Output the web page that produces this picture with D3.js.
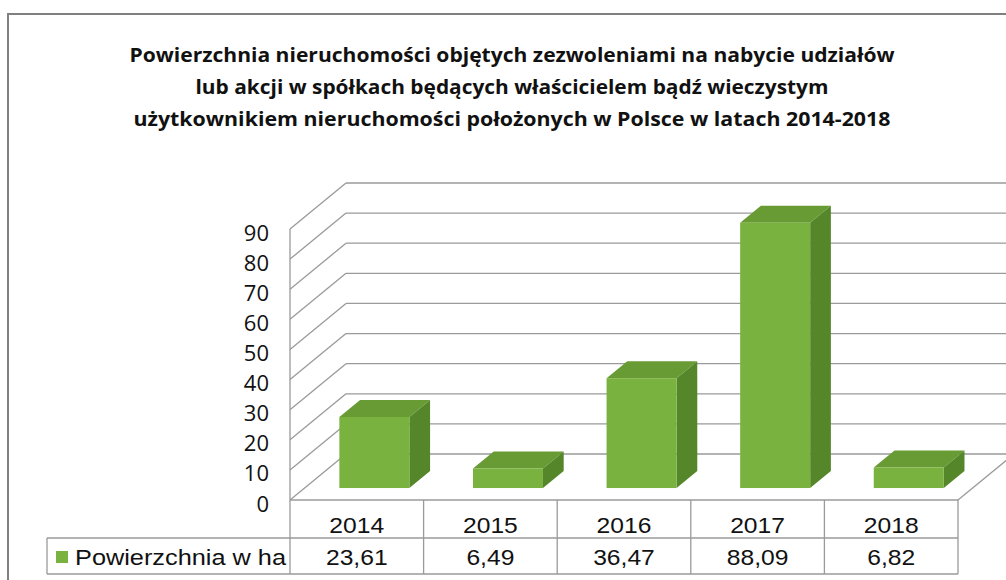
<!DOCTYPE html>
<html>
<head>
<meta charset="utf-8">
<script src="https://cdn.jsdelivr.net/npm/d3@7"></script>
<style>
  body { margin: 0; background: #fff; }
  svg { display: block; }
</style>
</head>
<body>
<section></section>
<script>
"use strict";

// data
const years = ["2014", "2015", "2016", "2017", "2018"];
const values = [23.61, 6.49, 36.47, 88.09, 6.82];
const valueLabels = ["23,61", "6,49", "36,47", "88,09", "6,82"];
const seriesName = "Powierzchnia w ha";
const yTicks = [0, 10, 20, 30, 40, 50, 60, 70, 80, 90];
const titleLines = [
  "Powierzchnia nieruchomości objętych zezwoleniami na nabycie udziałów",
  "lub akcji w spółkach będących właścicielem bądź wieczystym",
  "użytkownikiem nieruchomości położonych w Polsce w latach 2014-2018",
];
const titleWidths = [765, 633, 757];

const w = 1006;
const h = 580;
const depth = { dx: 56, dy: -46 }; // oblique offset front -> back wall
const barDepth = [0.26, 0.63]; // bar front / back as fraction of depth
const barWidth = 70;
const gridColor = "#9a9a9a";
const green = { front: "#7ab23f", top: "#689b33", side: "#55872a" };

const svg = d3.select("section").append("svg").attr("width", w).attr("height", h);

// scales
const x = d3.scaleBand().domain(years).range([290, 958]);
const y = d3.scaleLinear().domain([0, 90]).range([500, 229]);

// frame
svg.append("line").attr("x1", 7).attr("x2", w).attr("y1", 14).attr("y2", 14)
  .attr("stroke", "#808080").attr("stroke-width", 2);
svg.append("line").attr("x1", 8).attr("x2", 8).attr("y1", 14).attr("y2", h)
  .attr("stroke", "#808080").attr("stroke-width", 2);

// title
svg.append("g")
  .selectAll("text")
  .data(titleLines)
  .enter()
  .append("text")
  .attr("x", 512)
  .attr("y", (d, i) => 62 + i * 32)
  .attr("text-anchor", "middle")
  .attr("font-family", "'Open Sans', sans-serif")
  .attr("font-weight", "bold")
  .attr("font-size", 19)
  .attr("fill", "#111")
  .attr("textLength", (d, i) => titleWidths[i])
  .attr("lengthAdjust", "spacingAndGlyphs")
  .text((d) => d);

const walls = svg.append("g").attr("fill", "none").attr("stroke", gridColor).attr("stroke-width", 1.3);

// side wall gridlines (front edge -> back wall)
walls.selectAll("line.side")
  .data(yTicks)
  .enter()
  .append("line")
  .attr("class", "side")
  .attr("x1", x.range()[0])
  .attr("y1", (d) => y(d))
  .attr("x2", x.range()[0] + depth.dx)
  .attr("y2", (d) => y(d) + depth.dy);

// back wall gridlines
walls.selectAll("line.back")
  .data(yTicks)
  .enter()
  .append("line")
  .attr("class", "back")
  .attr("x1", x.range()[0] + depth.dx)
  .attr("y1", (d) => y(d) + depth.dy)
  .attr("x2", x.range()[1] + depth.dx)
  .attr("y2", (d) => y(d) + depth.dy);

// front-left edge
walls.append("line")
  .attr("x1", x.range()[0]).attr("x2", x.range()[0])
  .attr("y1", y(0)).attr("y2", y(90));

// floor front + right edge
walls.append("line")
  .attr("x1", x.range()[0]).attr("x2", x.range()[1])
  .attr("y1", y(0)).attr("y2", y(0));
walls.append("line")
  .attr("x1", x.range()[1]).attr("y1", y(0))
  .attr("x2", x.range()[1] + depth.dx).attr("y2", y(0) + depth.dy);

// y axis labels
const yAxis = d3.axisLeft(y).tickValues(yTicks).tickSize(0).tickPadding(0).tickFormat(d3.format("d"));
svg.append("g")
  .attr("transform", "translate(269, 4)")
  .call(yAxis)
  .call((g) => g.select(".domain").remove())
  .selectAll("text")
  .attr("font-family", "'Open Sans', sans-serif")
  .attr("font-size", 22)
  .attr("fill", "#111");

// bars
const bars = svg.append("g")
  .selectAll("g")
  .data(years.map((yr, i) => ({ year: yr, value: values[i] })))
  .enter()
  .append("g");

const bx0 = (d) => x(d.year) + (x.bandwidth() - barWidth) / 2 + barDepth[0] * depth.dx + 3;
const by0 = barDepth[0] * depth.dy;
const ddx = (barDepth[1] - barDepth[0]) * depth.dx;
const ddy = (barDepth[1] - barDepth[0]) * depth.dy;

// top face
bars.append("path")
  .attr("fill", green.top)
  .attr("d", (d) => {
    const xl = bx0(d), yt = y(d.value) + by0;
    return `M${xl},${yt}L${xl + barWidth},${yt}L${xl + barWidth + ddx},${yt + ddy}L${xl + ddx},${yt + ddy}Z`;
  });
// right side face
bars.append("path")
  .attr("fill", green.side)
  .attr("d", (d) => {
    const xr = bx0(d) + barWidth, yt = y(d.value) + by0, yb = y(0) + by0;
    return `M${xr},${yt}L${xr + ddx},${yt + ddy}L${xr + ddx},${yb + ddy}L${xr},${yb}Z`;
  });
// front face
bars.append("rect")
  .attr("fill", green.front)
  .attr("x", bx0)
  .attr("y", (d) => y(d.value) + by0)
  .attr("width", barWidth)
  .attr("height", (d) => y(0) - y(d.value));

// data table
const rowTop = 538;
const rowBottom = 574;
const tableLeft = 47;
const table = svg.append("g").attr("stroke", gridColor).attr("stroke-width", 1.3);

table.append("line").attr("x1", tableLeft).attr("x2", x.range()[1]).attr("y1", rowTop).attr("y2", rowTop);
table.append("line").attr("x1", tableLeft).attr("x2", x.range()[1]).attr("y1", rowBottom).attr("y2", rowBottom);
table.append("line").attr("x1", tableLeft).attr("x2", tableLeft).attr("y1", rowTop).attr("y2", rowBottom);
table.selectAll("line.col")
  .data(x.domain().map((d) => x(d)).concat([x.range()[1]]))
  .enter()
  .append("line")
  .attr("class", "col")
  .attr("x1", (d) => d).attr("x2", (d) => d)
  .attr("y1", y(0)).attr("y2", rowBottom);

const stretch = function (factor) {
  return function () {
    this.setAttribute("textLength", this.getComputedTextLength() * factor);
    this.setAttribute("lengthAdjust", "spacingAndGlyphs");
  };
};

const tableText = (sel) =>
  sel.attr("font-family", "'Liberation Sans', Arial, sans-serif")
    .attr("font-size", 22)
    .attr("fill", "#111");

svg.append("g")
  .selectAll("text")
  .data(years)
  .enter()
  .append("text")
  .attr("x", (d) => x(d) + x.bandwidth() / 2)
  .attr("y", 533)
  .attr("text-anchor", "middle")
  .call(tableText)
  .text((d) => d)
  .each(stretch(1.12));

svg.append("g")
  .selectAll("text")
  .data(valueLabels)
  .enter()
  .append("text")
  .attr("x", (d, i) => x(years[i]) + x.bandwidth() / 2)
  .attr("y", 565)
  .attr("text-anchor", "middle")
  .call(tableText)
  .text((d) => d)
  .each(stretch(1.12));

// legend key
svg.append("rect")
  .attr("x", 56).attr("y", 551)
  .attr("width", 12).attr("height", 12)
  .attr("fill", green.front);
svg.append("text")
  .attr("x", 75).attr("y", 565)
  .call(tableText)
  .attr("textLength", 211)
  .attr("lengthAdjust", "spacingAndGlyphs")
  .text(seriesName);
</script>
</body>
</html>
